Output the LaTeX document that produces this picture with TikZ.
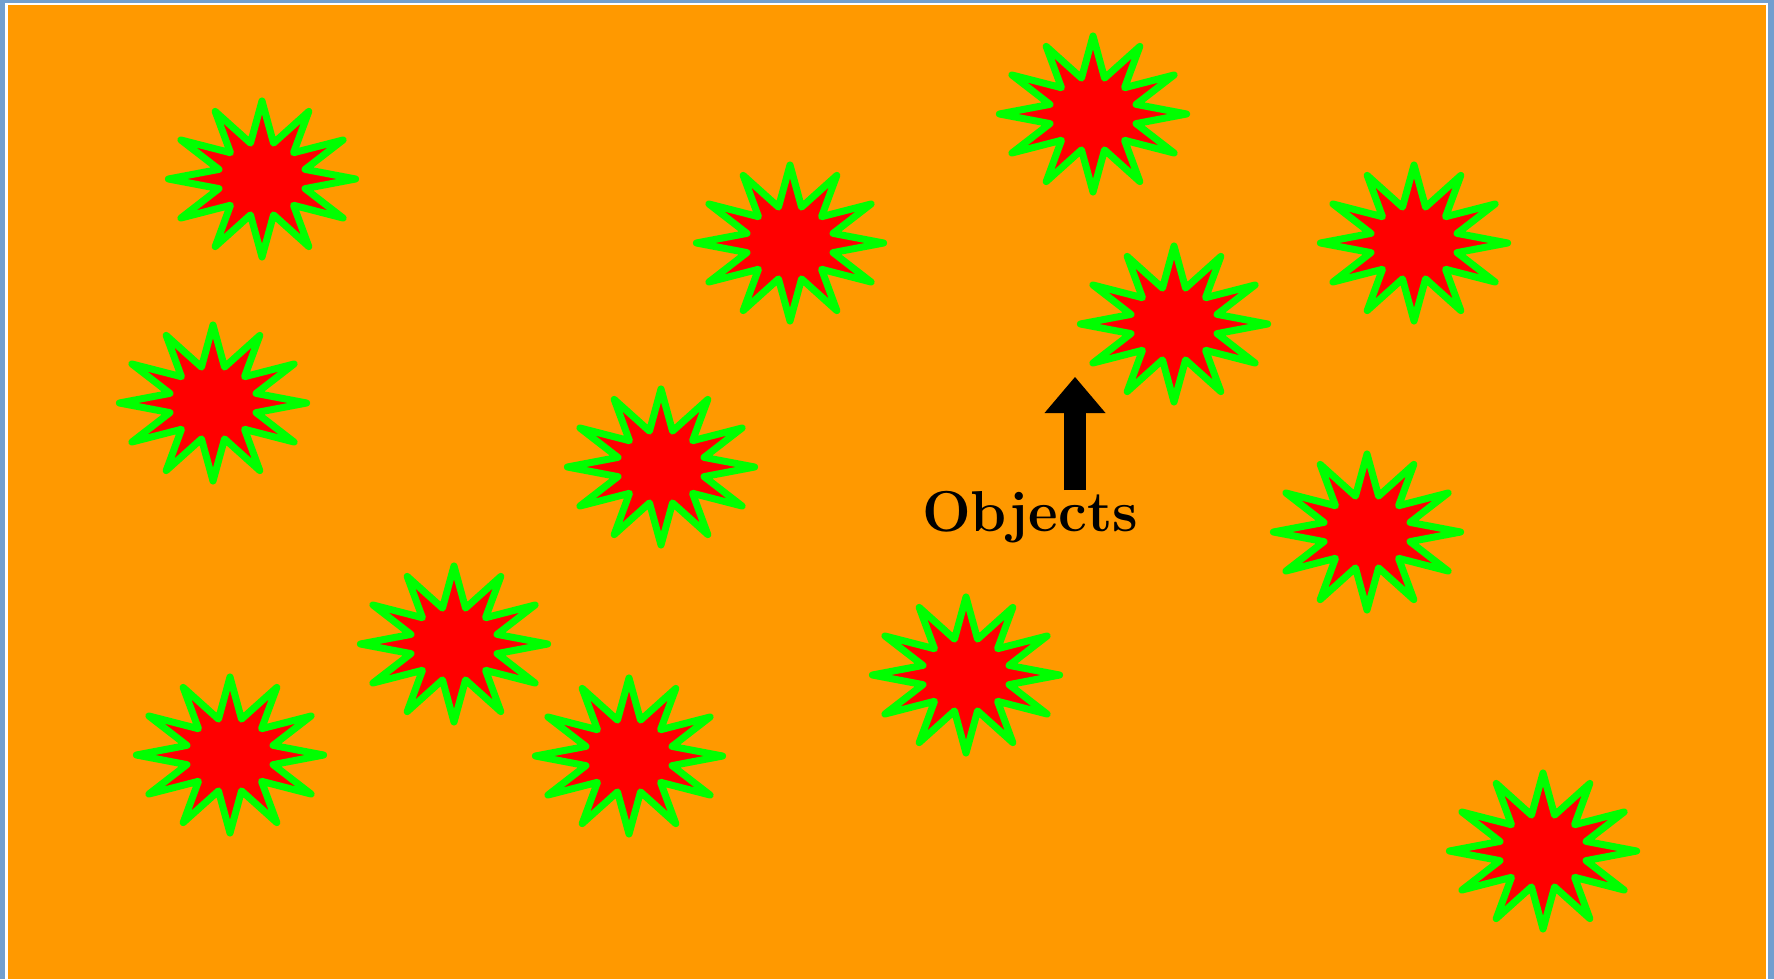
\documentclass[tikz,border=0pt]{standalone}
\usetikzlibrary{shapes.geometric,arrows.meta}
\definecolor{frameblue}{RGB}{114,159,207}
\definecolor{sandorange}{RGB}{255,153,0}
\tikzset{
  burst/.style={star,star points=12,star point ratio=2.1,minimum size=1.56cm,
    inner sep=0pt,xscale=1.2,fill=red,draw=green,line width=0.07cm,line join=round},
  pointer/.style={line width=0.22cm,-{Triangle[width=0.61cm,length=0.36cm,line width=0pt]}}
}
\begin{document}
\begin{tikzpicture}[x=0.01cm,y=-0.01cm]
\useasboundingbox (0,0) rectangle (1774,979);
\fill[frameblue] (0,0) rectangle (1774,979);
\fill[white] (5,3) rectangle (1768,979);
\fill[sandorange] (7.5,5.5) rectangle (1765.5,979);
% scattered objects
\foreach \px/\py [count=\i] in {262/179,213/403,230/755,454/644,661/467,629/756,
  790/243,1093/114,1174/324,1414/243,1367/532,966/675,1543/851}{
  \node[burst] (s\i) at (\px,\py) {};
}
\node[anchor=base,inner sep=0pt,font=\fontsize{16.4pt}{20pt}\selectfont\bfseries] (lbl) at (1030,531) {Objects};
\coordinate (tip) at (1075,377);
\draw[pointer] (lbl.north -| tip) -- (tip);
\end{tikzpicture}
\end{document}
